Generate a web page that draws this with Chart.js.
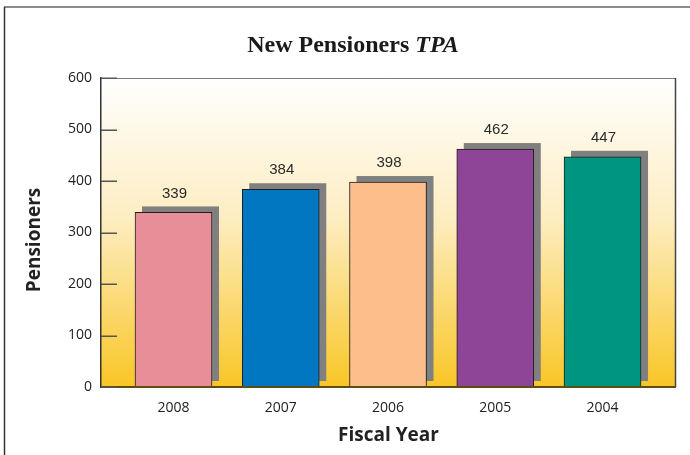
<!DOCTYPE html>
<html>
<head>
<meta charset="utf-8">
<script src="https://cdn.jsdelivr.net/npm/chart.js@4.4.1/dist/chart.umd.min.js"></script>
<style>
  html, body { margin: 0; padding: 0; background: #ffffff; }
  #wrap { position: relative; width: 690px; height: 455px; }
</style>
</head>
<body>
<div id="wrap"><canvas id="c" width="690" height="455"></canvas></div>
<script>
const categories = ['2008', '2007', '2006', '2005', '2004'];
const pensioners = [339, 384, 398, 462, 447];
const barColors = ['#E78E98', '#0077C0', '#FDBE8B', '#8E4497', '#009580'];
const yTickValues = [0, 100, 200, 300, 400, 500, 600];
const titleMain = 'New Pensioners ';
const titleItalic = 'TPA';
const yAxisTitle = 'Pensioners';

const framePlugin = {
  id: 'frame',
  beforeDraw(chart) {
    const ctx = chart.ctx;
    const a = chart.chartArea;
    ctx.save();
    ctx.strokeStyle = '#8c8c8c';
    ctx.lineWidth = 2;
    ctx.beginPath(); ctx.moveTo(4, 7); ctx.lineTo(690, 7); ctx.stroke();
    ctx.strokeStyle = '#333';
    ctx.lineWidth = 1.5;
    ctx.beginPath(); ctx.moveTo(4.5, 7); ctx.lineTo(4.5, 455); ctx.stroke();
    const g = ctx.createLinearGradient(0, a.top, 0, a.bottom);
    g.addColorStop(0, '#FFFFFF');
    g.addColorStop(0.45, '#FDEDC2');
    g.addColorStop(1, '#F9C626');
    ctx.fillStyle = g;
    ctx.fillRect(a.left, a.top, a.right - a.left, a.bottom - a.top);
    ctx.restore();
  },
  beforeDatasetsDraw(chart) {
    const ctx = chart.ctx;
    const meta = chart.getDatasetMeta(0);
    ctx.save();
    ctx.fillStyle = '#808080';
    meta.data.forEach((el) => {
      const p = el.getProps(['x', 'y', 'base', 'width'], true);
      ctx.fillRect(p.x - p.width / 2 + 7, p.y - 6, p.width, p.base - p.y);
    });
    ctx.restore();
  },
  afterDatasetsDraw(chart) {
    const ctx = chart.ctx;
    const a = chart.chartArea;
    const yScale = chart.scales.y;
    const meta = chart.getDatasetMeta(0);
    ctx.save();
    ctx.strokeStyle = '#7a7a7a';
    ctx.lineWidth = 1;
    ctx.beginPath(); ctx.moveTo(a.left, a.top + 0.5); ctx.lineTo(a.right, a.top + 0.5); ctx.stroke();
    ctx.strokeStyle = '#444';
    ctx.lineWidth = 1.5;
    ctx.beginPath(); ctx.moveTo(a.right - 0.5, a.top); ctx.lineTo(a.right - 0.5, a.bottom); ctx.stroke();
    ctx.strokeStyle = '#5e4d12';
    ctx.lineWidth = 2;
    ctx.beginPath(); ctx.moveTo(a.left, a.bottom); ctx.lineTo(a.right, a.bottom); ctx.stroke();
    ctx.strokeStyle = '#555';
    ctx.lineWidth = 1.5;
    yTickValues.forEach((v) => {
      const py = Math.round(yScale.getPixelForValue(v)) + 0.25;
      ctx.beginPath(); ctx.moveTo(a.left, py); ctx.lineTo(a.left + 16, py); ctx.stroke();
    });
    ctx.fillStyle = '#2b2b2b';
    ctx.font = '15px "Liberation Sans", Arial, sans-serif';
    ctx.textAlign = 'center';
    ctx.textBaseline = 'middle';
    meta.data.forEach((el, i) => {
      const p = el.getProps(['x', 'y'], true);
      ctx.fillText(String(pensioners[i]), p.x + 1, p.y - 19);
    });
    ctx.restore();
  },
  afterDraw(chart) {
    const ctx = chart.ctx;
    ctx.save();
    ctx.fillStyle = '#1a1a1a';
    ctx.textBaseline = 'alphabetic';
    ctx.textAlign = 'left';
    const f1 = 'bold 24px "Liberation Serif", "Times New Roman", serif';
    const f2 = 'italic bold 24px "Liberation Serif", "Times New Roman", serif';
    ctx.font = f1; const w1 = ctx.measureText(titleMain).width;
    ctx.font = f2; const w2 = ctx.measureText(titleItalic).width;
    const x0 = 353 - (w1 + w2) / 2;
    ctx.font = f1; ctx.fillText(titleMain, x0, 52);
    ctx.font = f2; ctx.fillText(titleItalic, x0 + w1, 52);
    // y axis title
    ctx.translate(35, 240);
    ctx.rotate(-Math.PI / 2);
    ctx.fillStyle = '#222';
    ctx.font = 'bold 19px "Open Sans", sans-serif';
    ctx.textAlign = 'center';
    ctx.textBaseline = 'middle';
    ctx.fillText(yAxisTitle, 0, 0);
    ctx.restore();
  }
};

new Chart(document.getElementById('c'), {
  type: 'bar',
  data: {
    datasets: [{
      data: pensioners.map((v, i) => ({ x: i, y: v })),
      backgroundColor: barColors,
      borderColor: '#1e1e1e',
      borderWidth: 1,
      barThickness: 77
    }]
  },
  options: {
    responsive: false,
    animation: false,
    layout: { padding: { left: 0, right: 14, top: 78, bottom: 4 } },
    plugins: { legend: { display: false }, tooltip: { enabled: false } },
    scales: {
      x: {
        type: 'linear',
        offset: false,
        min: -0.676,
        max: 4.685,
        afterBuildTicks: (s) => { s.ticks = categories.map((c, i) => ({ value: i })); },
        afterFit: (s) => { s.height = 64; },
        grid: { display: false, drawTicks: false },
        border: { display: false },
        ticks: {
          padding: 13,
          color: '#222',
          font: { family: '"Open Sans", sans-serif', size: 14 },
          callback: (v) => categories[v] !== undefined ? categories[v] : ''
        },
        title: {
          display: true,
          text: 'Fiscal Year',
          color: '#222',
          font: { family: '"Open Sans", sans-serif', size: 19, weight: 'bold' },
          padding: { top: 0, bottom: 4 }
        }
      },
      y: {
        min: 0,
        max: 600,
        afterBuildTicks: (s) => { s.ticks = yTickValues.map((v) => ({ value: v })); },
        afterFit: (s) => { s.width = 101; },
        grid: { display: false, drawTicks: false },
        border: { display: true, color: '#333', width: 1.5 },
        ticks: {
          padding: 9,
          color: '#222',
          font: { family: '"Open Sans", sans-serif', size: 14 }
        },
        title: { display: false }
      }
    }
  },
  plugins: [framePlugin]
});
</script>
</body>
</html>
